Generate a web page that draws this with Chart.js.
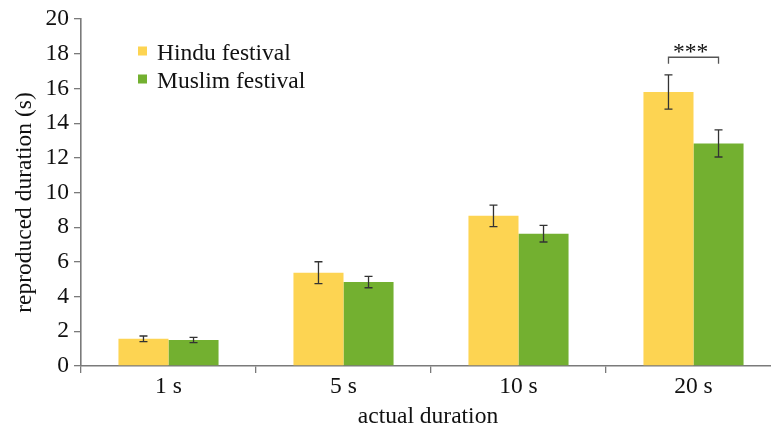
<!DOCTYPE html>
<html>
<head>
<meta charset="utf-8">
<script src="https://cdn.jsdelivr.net/npm/chart.js@4/dist/chart.umd.min.js"></script>
<style>
  html, body { margin: 0; padding: 0; background: #fff; overflow: hidden; }
  #wrap { width: 800px; height: 430px; }
</style>
</head>
<body>
<div id="wrap"><canvas id="c" width="800" height="430"></canvas></div>
<script>
// Reproduced vs. actual duration, by festival group
const categories = ['1 s', '5 s', '10 s', '20 s'];
const hinduMeans = [1.57, 5.38, 8.66, 15.80];
const hinduErrors = [0.16, 0.63, 0.62, 0.99];
const muslimMeans = [1.50, 4.84, 7.63, 12.83];
const muslimErrors = [0.15, 0.33, 0.48, 0.78];
const seriesNames = ['Hindu festival', 'Muslim festival'];
const seriesColors = ['#fdd452', '#73b030'];
const yTicks = [0, 2, 4, 6, 8, 10, 12, 14, 16, 18, 20];

// significance bracket between the two bars of the last group
const sigIndex = 3;
const sigLevel = 17.8;
const sigLeg = 0.38;
const sigLabel = '***';

const FONT = '"Liberation Serif", "Times New Roman", serif';
const FSIZE = 23.5;
const AXIS_GREY = '#7a7a7a';

const errorBars = {
  id: 'errorBars',
  afterDatasetsDraw(chart) {
    const ctx = chart.ctx;
    const y = chart.scales.y;
    const errs = [hinduErrors, muslimErrors];
    ctx.save();
    ctx.strokeStyle = '#333';
    ctx.lineWidth = 1.3;
    chart.data.datasets.forEach((ds, di) => {
      const meta = chart.getDatasetMeta(di);
      meta.data.forEach((bar, i) => {
        const v = ds.data[i], e = errs[di][i];
        const top = y.getPixelForValue(v + e);
        const bot = y.getPixelForValue(v - e);
        const x = bar.x, cap = 4;
        ctx.beginPath();
        ctx.moveTo(x, top); ctx.lineTo(x, bot);
        ctx.moveTo(x - cap, top); ctx.lineTo(x + cap, top);
        ctx.moveTo(x - cap, bot); ctx.lineTo(x + cap, bot);
        ctx.stroke();
      });
    });
    ctx.restore();
  }
};

const annotations = {
  id: 'annotations',
  afterDraw(chart) {
    const ctx = chart.ctx;
    const y = chart.scales.y;
    const area = chart.chartArea;
    ctx.save();

    // significance bracket
    const x1 = chart.getDatasetMeta(0).data[sigIndex].x;
    const x2 = chart.getDatasetMeta(1).data[sigIndex].x;
    const yTop = y.getPixelForValue(sigLevel);
    const yLeg = y.getPixelForValue(sigLevel - sigLeg);
    ctx.strokeStyle = '#555';
    ctx.lineWidth = 1.3;
    ctx.beginPath();
    ctx.moveTo(x1, yLeg); ctx.lineTo(x1, yTop); ctx.lineTo(x2, yTop); ctx.lineTo(x2, yLeg);
    ctx.stroke();
    ctx.fillStyle = '#111';
    ctx.font = FSIZE + 'px ' + FONT;
    ctx.textAlign = 'center';
    ctx.textBaseline = 'alphabetic';
    ctx.fillText(sigLabel, (x1 + x2) / 2 - 3, yTop + 2);

    // legend
    ctx.textAlign = 'left';
    seriesNames.forEach((name, i) => {
      const cy = 51 + i * 28;
      ctx.fillStyle = seriesColors[i];
      ctx.fillRect(138, cy - 4.5, 9, 9);
      ctx.fillStyle = '#111';
      ctx.fillText(name, 157, cy + 9);
    });

    // y axis title
    ctx.translate(25, (area.top + area.bottom) / 2 + 10);
    ctx.rotate(-Math.PI / 2);
    ctx.textAlign = 'center';
    ctx.textBaseline = 'middle';
    ctx.fillText('reproduced duration (s)', 0, 0);
    ctx.restore();

    ctx.save();
    ctx.fillStyle = '#111';
    ctx.font = FSIZE + 'px ' + FONT;
    ctx.textAlign = 'center';
    ctx.textBaseline = 'alphabetic';
    ctx.fillText('actual duration', (area.left + area.right) / 2 - 3, 423);
    ctx.restore();
  }
};

new Chart(document.getElementById('c'), {
  type: 'bar',
  data: {
    labels: categories,
    datasets: [
      { label: seriesNames[0], data: hinduMeans, backgroundColor: seriesColors[0] },
      { label: seriesNames[1], data: muslimMeans, backgroundColor: seriesColors[1] }
    ]
  },
  options: {
    responsive: false,
    animation: false,
    devicePixelRatio: 1,
    layout: { padding: { top: 16, right: 19, left: 0, bottom: 0 } },
    datasets: { bar: { categoryPercentage: 0.572, barPercentage: 1.0 } },
    plugins: { legend: { display: false }, tooltip: { enabled: false } },
    scales: {
      x: {
        afterFit(s) { s.height = 64; },
        grid: {
          offset: true, drawOnChartArea: false, drawTicks: true,
          tickLength: 7, color: AXIS_GREY, lineWidth: 1.3
        },
        border: { color: AXIS_GREY, width: 1.6 },
        ticks: { color: '#111', font: { family: FONT, size: FSIZE }, padding: 0 }
      },
      y: {
        min: 0, max: 20,
        afterFit(s) { s.width = 81; },
        afterBuildTicks(s) { s.ticks = yTicks.map(v => ({ value: v })); },
        grid: {
          drawOnChartArea: false, drawTicks: true,
          tickLength: 7, color: AXIS_GREY, lineWidth: 1.3
        },
        border: { color: AXIS_GREY, width: 1.6 },
        ticks: { color: '#111', font: { family: FONT, size: FSIZE }, padding: 5 }
      }
    }
  },
  plugins: [errorBars, annotations]
});
</script>
</body>
</html>
